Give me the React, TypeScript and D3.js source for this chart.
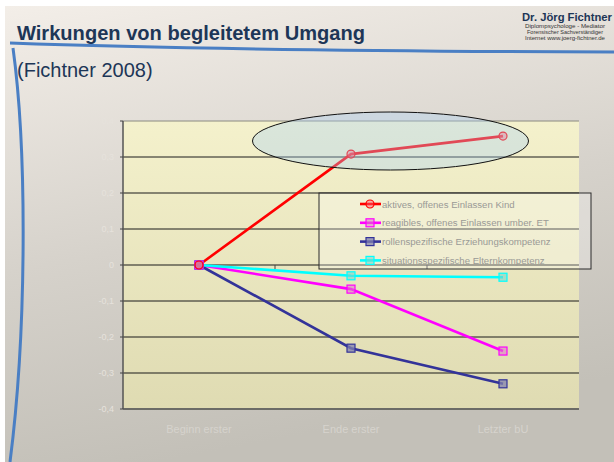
import React from 'react'
import * as d3 from 'd3'

const categories = ['Beginn erster', 'Ende erster', 'Letzter bU']
const yTicks = [0.4, 0.3, 0.2, 0.1, 0, -0.1, -0.2, -0.3, -0.4]

const seriesNames = [
  'aktives, offenes Einlassen Kind',
  'reagibles, offenes Einlassen umber. ET',
  'rollenspezifische Erziehungskompetenz',
  'situationsspezifische Elternkompetenz',
]
const aktiv = [0, 0.308, 0.358]
const reagibel = [0, -0.067, -0.239]
const rollen = [0, -0.231, -0.33]
const situation = [0, -0.03, -0.034]

const series = [
  { name: seriesNames[0], values: aktiv, color: '#ff0000', fill: 'rgba(255,90,110,0.45)', marker: 'circle' },
  { name: seriesNames[1], values: reagibel, color: '#ff00ff', fill: 'rgba(220,120,200,0.55)', marker: 'square' },
  { name: seriesNames[2], values: rollen, color: '#333399', fill: 'rgba(130,130,175,0.75)', marker: 'square' },
  { name: seriesNames[3], values: situation, color: '#00ffff', fill: 'rgba(120,215,205,0.6)', marker: 'square' },
]

const W = 614
const H = 462
const plot = { left: 123, right: 579, top: 121, bottom: 409 }

const Marker = ({ x, y, s }: any) =>
  s.marker === 'circle' ? (
    <circle cx={x} cy={y} r={4} fill={s.fill} stroke={s.color} strokeWidth={1.2} />
  ) : (
    <rect x={x - 4} y={y - 4} width={8} height={8} fill={s.fill} stroke={s.color} strokeWidth={1.2} />
  )

export default function App() {
  const x = d3.scaleBand().domain(categories).range([plot.left, plot.right])
  const y = d3.scaleLinear().domain([-0.4, 0.4]).range([plot.bottom, plot.top])
  const cx = (c: string) => (x(c) as number) + x.bandwidth() / 2

  const line = d3
    .line<number>()
    .x((_, i) => cx(categories[i]))
    .y(d => y(d))

  const font = 'Liberation Sans, Arial, sans-serif'

  return (
    <div style={{ position: 'fixed', left: 0, top: 0 }}>
      <svg width={W} height={H} style={{ display: 'block' }} fontFamily={font}>
        <defs>
          <linearGradient id="bg" x1="0" y1="0" x2="0.25" y2="1">
            <stop offset="0%" stopColor="#f3eee8" />
            <stop offset="55%" stopColor="#d6d2cb" />
            <stop offset="100%" stopColor="#c3c0b8" />
          </linearGradient>
          <linearGradient id="plotbg" x1="0" y1="0" x2="0" y2="1">
            <stop offset="0%" stopColor="#f4f1cc" />
            <stop offset="100%" stopColor="#dfdbb2" />
          </linearGradient>
        </defs>
        <rect width={W} height={H} fill="#ffffff" />
        <rect x={5} y={6} width={W - 5} height={H - 6} fill="url(#bg)" />

        {/* decorative curves */}
        <path d="M10,43 C120,47 300,51 614,52" fill="none" stroke="#4a7fc4" strokeWidth={3} />
        <path d="M13,48 C27,150 27,330 10,462" fill="none" stroke="#4a7fc4" strokeWidth={3} />

        {/* title */}
        <text x={17} y={40} fontSize={20.5} fontWeight="bold" fill="#1d3657" textLength={348} lengthAdjust="spacingAndGlyphs">
          Wirkungen von begleitetem Umgang
        </text>
        <text x={17} y={77} fontSize={20} fill="#1d3657">
          (Fichtner 2008)
        </text>

        {/* logo */}
        <text x={522} y={21} fontSize={11.5} fontWeight="bold" fill="#1d3657" textLength={90} lengthAdjust="spacingAndGlyphs">
          Dr. Jörg Fichtner
        </text>
        <text x={525} y={28} fontSize={5} fill="#333" textLength={80} lengthAdjust="spacingAndGlyphs">
          Diplompsychologe  -  Mediator
        </text>
        <text x={527} y={34} fontSize={5} fill="#333" textLength={76} lengthAdjust="spacingAndGlyphs">
          Forensischer Sachverständiger
        </text>
        <text x={525} y={40} fontSize={5} fill="#333" textLength={80} lengthAdjust="spacingAndGlyphs">
          Internet www.joerg-fichtner.de
        </text>

        {/* plot area */}
        <rect x={plot.left} y={plot.top} width={plot.right - plot.left} height={plot.bottom - plot.top} fill="url(#plotbg)" />
        <line x1={plot.left} x2={plot.right} y1={plot.top} y2={plot.top} stroke="#8a8a80" strokeWidth={1} />
        {yTicks.slice(1, -1).map(t => (
          <line key={t} x1={plot.left} x2={plot.right} y1={y(t)} y2={y(t)} stroke="#1a1a1a" strokeWidth={1} />
        ))}
        <line x1={plot.left} x2={plot.right} y1={plot.bottom} y2={plot.bottom} stroke="#6b6b66" strokeWidth={2} />
        <line x1={plot.left} x2={plot.left} y1={plot.top} y2={plot.bottom} stroke="#555" strokeWidth={1.5} />
        {yTicks.map(t => (
          <line key={'t' + t} x1={plot.left - 3} x2={plot.left} y1={y(t)} y2={y(t)} stroke="#444" />
        ))}
        {categories.slice(1).map(c => (
          <line key={c} x1={x(c)} x2={x(c)} y1={y(0)} y2={y(0) + 4} stroke="#444" />
        ))}

        {/* y labels */}
        {yTicks.map(t => (
          <text key={'l' + t} x={114} y={y(t) + 3} fontSize={9} textAnchor="end" fill="#e6e2dc">
            {t === 0 ? '0' : d3.format('.1f')(t).replace('.', ',').replace('−', '-')}
          </text>
        ))}
        {/* x labels */}
        {categories.map(c => (
          <text key={'x' + c} x={cx(c)} y={433} fontSize={11} textAnchor="middle" fill="#d6d3cd">
            {c}
          </text>
        ))}

        {/* series */}
        {series.map(s => (
          <path key={s.name} d={line(s.values) as string} fill="none" stroke={s.color} strokeWidth={2.6} />
        ))}
        {series
          .slice()
          .reverse()
          .map(s =>
            s.values.map((v, i) => <Marker key={s.name + i} x={cx(categories[i])} y={y(v)} s={s} />)
          )}

        {/* legend */}
        <rect x={319} y={193} width={272} height={76} fill="rgba(255,255,255,0.28)" stroke="#2a2a2a" strokeWidth={1} />
        {series.map((s, i) => {
          const ly = 204 + i * 18.8
          return (
            <g key={'lg' + s.name}>
              <line x1={360} x2={381} y1={ly} y2={ly} stroke={s.color} strokeWidth={2.6} />
              <Marker x={370} y={ly} s={s} />
              <text x={382} y={ly + 3.5} fontSize={9.6} fill="#9a9a96">
                {s.name}
              </text>
            </g>
          )
        })}

        {/* highlight ellipse */}
        <ellipse cx={390.5} cy={141} rx={138} ry={29} fill="rgba(170,208,245,0.35)" stroke="#111" strokeWidth={1} />
      </svg>
    </div>
  )
}
